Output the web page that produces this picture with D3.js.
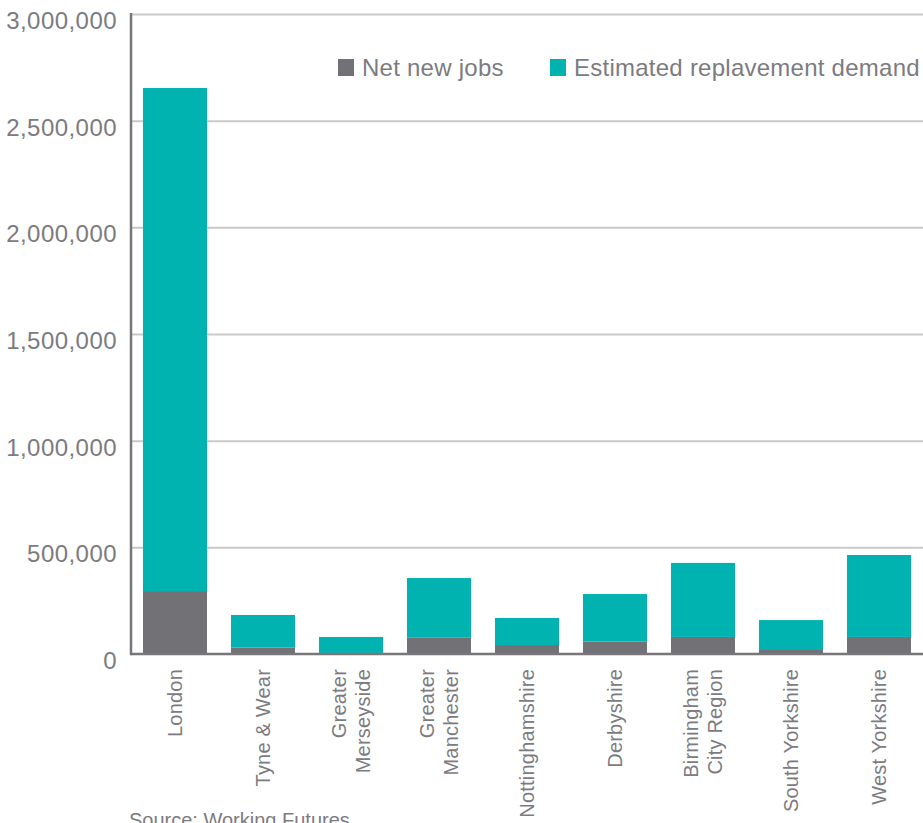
<!DOCTYPE html>
<html>
<head>
<meta charset="utf-8">
<script src="https://cdn.jsdelivr.net/npm/d3@7/dist/d3.min.js"></script>
<style>
  html, body { margin: 0; padding: 0; background: #fff; }
  svg { display: block; font-family: "Liberation Sans", Arial, Helvetica, sans-serif; }
</style>
</head>
<body>
<svg id="chart" width="923" height="823"></svg>
<script>
// Job openings by area: net new jobs plus estimated replacement demand
const regions = [
  ["London"],
  ["Tyne & Wear"],
  ["Greater", "Merseyside"],
  ["Greater", "Manchester"],
  ["Nottinghamshire"],
  ["Derbyshire"],
  ["Birmingham", "City Region"],
  ["South Yorkshire"],
  ["West Yorkshire"]
];
const netNewJobs        = [295000, 30000, 5000, 76000, 42000, 58000, 80000, 23000, 80000];
const replacementDemand = [2358000, 153000, 75000, 280000, 127000, 223000, 347000, 136000, 384000];
const yTicks = [0, 500000, 1000000, 1500000, 2000000, 2500000, 3000000];
const seriesNames = ["Net new jobs", "Estimated replavement demand"];
const seriesColors = ["#727175", "#00b2b0"];
const sourceNote = "Source: Working Futures";

const svg = d3.select("#chart");
const plotLeft = 131, plotRight = 923, plotTop = 14, plotBottom = 654;
const textColor = "#7c7b7f";

const keys = regions.map(r => r.join(" "));
const rows = keys.map((k, i) => ({ key: k, net: netNewJobs[i], repl: replacementDemand[i] }));

const x = d3.scaleBand().domain(keys).range([plotLeft, plotRight]).paddingInner(24 / 88).paddingOuter(12 / 88);
const y = d3.scaleLinear().domain([0, 3000000]).range([plotBottom, plotTop]);

// gridlines + tick labels
const yAxis = svg.append("g")
  .attr("transform", `translate(${plotLeft},0)`)
  .call(d3.axisLeft(y).tickValues(yTicks).tickFormat(d3.format(",")).tickSize(-(plotRight - plotLeft)).tickPadding(14));
yAxis.select(".domain").remove();
yAxis.selectAll(".tick line").attr("stroke", "#c9c9c9").attr("stroke-width", 2)
  .filter(d => d === 0).remove();
yAxis.selectAll(".tick text")
  .attr("fill", textColor).attr("font-size", 24).attr("letter-spacing", 0.45).attr("dy", "0.6em");

// stacked bars
const stack = d3.stack().keys(["net", "repl"])(rows);
svg.append("g").selectAll("g").data(stack).join("g")
  .attr("fill", (d, i) => seriesColors[i])
  .selectAll("rect").data(d => d).join("rect")
  .attr("x", d => x(d.data.key))
  .attr("width", x.bandwidth())
  .attr("y", d => y(d[1]))
  .attr("height", d => y(d[0]) - y(d[1]));

// axis lines
svg.append("line").attr("x1", plotLeft).attr("x2", plotRight).attr("y1", plotBottom).attr("y2", plotBottom)
  .attr("stroke", "#77767a").attr("stroke-width", 2.5);
svg.append("line").attr("x1", plotLeft).attr("x2", plotLeft).attr("y1", plotTop - 1).attr("y2", plotBottom + 1.25)
  .attr("stroke", "#77767a").attr("stroke-width", 2.5);

// rotated category labels
const cat = svg.append("g").selectAll("text").data(regions).join("text")
  .attr("transform", (d, i) => `translate(${x(keys[i]) + x.bandwidth() / 2},669) rotate(-90)`)
  .attr("text-anchor", "end")
  .attr("fill", textColor)
  .attr("font-size", 20)
  .attr("letter-spacing", 0.2);
cat.each(function (lines) {
  const t = d3.select(this);
  const n = lines.length;
  lines.forEach((ln, j) => {
    t.append("tspan").attr("x", 0)
      .attr("dy", j === 0 ? `${0.35 - (n - 1) * 0.6}em` : "1.2em")
      .text(ln);
  });
});

// legend
const legend = svg.append("g");
const legendX = [338, 550];
seriesNames.forEach((name, i) => {
  legend.append("rect").attr("x", legendX[i]).attr("y", 59).attr("width", 16).attr("height", 17)
    .attr("fill", seriesColors[i]);
  legend.append("text").attr("x", legendX[i] + 24).attr("y", 76)
    .attr("fill", textColor).attr("font-size", 24).attr("letter-spacing", 0.25).text(name);
});

// source
svg.append("text").attr("x", 129).attr("y", 827).attr("fill", textColor)
  .attr("font-size", 20).text(sourceNote);
</script>
</body>
</html>
